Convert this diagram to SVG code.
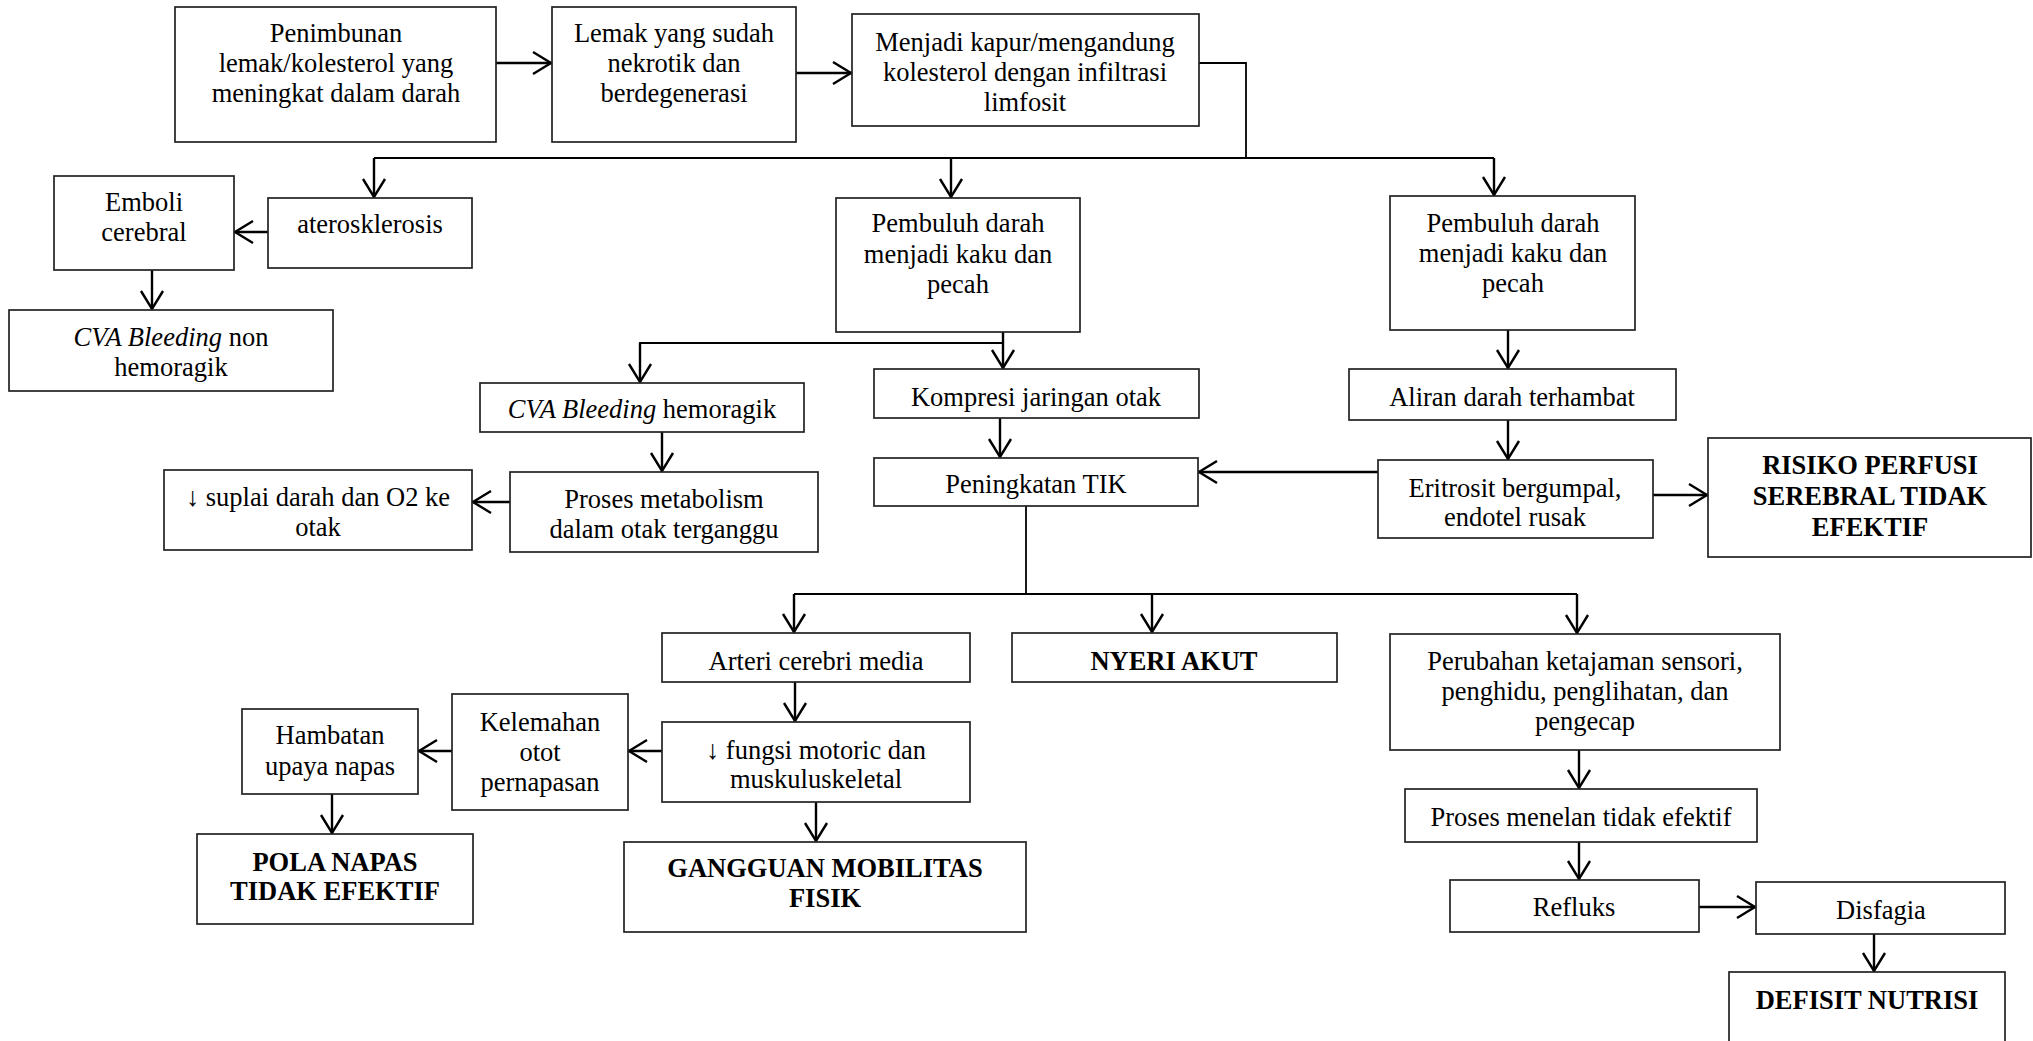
<svg xmlns="http://www.w3.org/2000/svg" width="2033" height="1041" viewBox="0 0 2033 1041">
<defs>
<style>
.box{fill:#fff;stroke:#222;stroke-width:1.7}
.t{font-family:"Liberation Serif","Times New Roman","DejaVu Serif",serif;font-size:26.5px;text-anchor:middle;fill:#000}
.b{font-weight:bold}
.i{font-style:italic}
.ln{stroke:#000;stroke-width:1.8;fill:none}
.ar{stroke:#000;stroke-width:2.4;fill:none;marker-end:url(#ah)}
</style>
<marker id="ah" markerUnits="userSpaceOnUse" markerWidth="26" markerHeight="26" refX="22" refY="12" orient="auto" viewBox="0 0 26 24">
<path d="M3,1 L21,12 L3,23" fill="none" stroke="#000" stroke-width="2.4"/>
</marker>
</defs>
<rect width="2033" height="1041" fill="#fff"/>

<g id="connectors">
<line class="ar" x1="496" y1="63" x2="552" y2="63"/>
<line class="ar" x1="796" y1="73" x2="852" y2="73"/>
<polyline class="ln" points="1199,63 1246,63 1246,158"/>
<line class="ln" x1="374" y1="158" x2="1494" y2="158"/>
<line class="ar" x1="374" y1="158" x2="374" y2="198"/>
<line class="ar" x1="951" y1="158" x2="951" y2="198"/>
<line class="ar" x1="1494" y1="158" x2="1494" y2="196"/>
<line class="ar" x1="268" y1="232" x2="234" y2="232"/>
<line class="ar" x1="152" y1="270" x2="152" y2="310"/>
<line class="ar" x1="1003" y1="332" x2="1003" y2="369"/>
<polyline class="ln" points="1003,343 640,343 640,360"/>
<line class="ar" x1="640" y1="343" x2="640" y2="383"/>
<line class="ar" x1="662" y1="432" x2="662" y2="472"/>
<line class="ar" x1="510" y1="502" x2="472" y2="502"/>
<line class="ar" x1="1000" y1="418" x2="1000" y2="458"/>
<line class="ar" x1="1508" y1="330" x2="1508" y2="369"/>
<line class="ar" x1="1508" y1="420" x2="1508" y2="460"/>
<line class="ar" x1="1378" y1="472" x2="1198" y2="472"/>
<line class="ar" x1="1653" y1="495" x2="1708" y2="495"/>
<line class="ln" x1="1026" y1="506" x2="1026" y2="594"/>
<line class="ln" x1="794" y1="594" x2="1577" y2="594"/>
<line class="ar" x1="794" y1="594" x2="794" y2="633"/>
<line class="ar" x1="1152" y1="594" x2="1152" y2="633"/>
<line class="ar" x1="1577" y1="594" x2="1577" y2="634"/>
<line class="ar" x1="795" y1="682" x2="795" y2="722"/>
<line class="ar" x1="662" y1="751" x2="628" y2="751"/>
<line class="ar" x1="452" y1="751" x2="418" y2="751"/>
<line class="ar" x1="332" y1="794" x2="332" y2="834"/>
<line class="ar" x1="816" y1="802" x2="816" y2="842"/>
<line class="ar" x1="1579" y1="750" x2="1579" y2="789"/>
<line class="ar" x1="1579" y1="842" x2="1579" y2="880"/>
<line class="ar" x1="1699" y1="907" x2="1756" y2="907"/>
<line class="ar" x1="1874" y1="934" x2="1874" y2="972"/>
</g>

<g id="n1"><rect class="box" x="175" y="7" width="321" height="135"/>
<text class="t" x="336" y="42">Penimbunan</text><text class="t" x="336" y="72">lemak/kolesterol yang</text><text class="t" x="336" y="102">meningkat dalam darah</text></g>
<g id="n2"><rect class="box" x="552" y="7" width="244" height="135"/>
<text class="t" x="674" y="42">Lemak yang sudah</text><text class="t" x="674" y="72">nekrotik dan</text><text class="t" x="674" y="102">berdegenerasi</text></g>
<g id="n3"><rect class="box" x="852" y="14" width="347" height="112"/>
<text class="t" x="1025" y="51">Menjadi kapur/mengandung</text><text class="t" x="1025" y="81">kolesterol dengan infiltrasi</text><text class="t" x="1025" y="111">limfosit</text></g>
<g id="n4"><rect class="box" x="54" y="176" width="180" height="94"/>
<text class="t" x="144" y="211">Emboli</text><text class="t" x="144" y="241">cerebral</text></g>
<g id="n5"><rect class="box" x="268" y="198" width="204" height="70"/>
<text class="t" x="370" y="233">aterosklerosis</text></g>
<g id="n6"><rect class="box" x="9" y="310" width="324" height="81"/>
<text class="t" x="171" y="346"><tspan class="i">CVA Bleeding</tspan> non</text><text class="t" x="171" y="376">hemoragik</text></g>
<g id="n7"><rect class="box" x="836" y="198" width="244" height="134"/>
<text class="t" x="958" y="232">Pembuluh darah</text><text class="t" x="958" y="263">menjadi kaku dan</text><text class="t" x="958" y="293">pecah</text></g>
<g id="n8"><rect class="box" x="1390" y="196" width="245" height="134"/>
<text class="t" x="1513" y="232">Pembuluh darah</text><text class="t" x="1513" y="262">menjadi kaku dan</text><text class="t" x="1513" y="292">pecah</text></g>
<g id="n9"><rect class="box" x="480" y="383" width="324" height="49"/>
<text class="t" x="642" y="418"><tspan class="i">CVA Bleeding</tspan> hemoragik</text></g>
<g id="n10"><rect class="box" x="874" y="369" width="325" height="49"/>
<text class="t" x="1036" y="406">Kompresi jaringan otak</text></g>
<g id="n11"><rect class="box" x="1349" y="369" width="327" height="51"/>
<text class="t" x="1512" y="406">Aliran darah terhambat</text></g>
<g id="n12"><rect class="box" x="510" y="472" width="308" height="80"/>
<text class="t" x="664" y="508">Proses metabolism</text><text class="t" x="664" y="538">dalam otak terganggu</text></g>
<g id="n13"><rect class="box" x="164" y="470" width="308" height="80"/>
<text class="t" x="318" y="506">↓ suplai darah dan O2 ke</text><text class="t" x="318" y="536">otak</text></g>
<g id="n14"><rect class="box" x="874" y="458" width="324" height="48"/>
<text class="t" x="1036" y="493">Peningkatan TIK</text></g>
<g id="n15"><rect class="box" x="1378" y="460" width="275" height="78"/>
<text class="t" x="1515" y="497">Eritrosit bergumpal,</text><text class="t" x="1515" y="526">endotel rusak</text></g>
<g id="n16"><rect class="box" x="1708" y="438" width="323" height="119"/>
<text class="t b" x="1870" y="474">RISIKO PERFUSI</text><text class="t b" x="1870" y="505">SEREBRAL TIDAK</text><text class="t b" x="1870" y="536">EFEKTIF</text></g>
<g id="n17"><rect class="box" x="662" y="633" width="308" height="49"/>
<text class="t" x="816" y="670">Arteri cerebri media</text></g>
<g id="n18"><rect class="box" x="1012" y="633" width="325" height="49"/>
<text class="t b" x="1174" y="670">NYERI AKUT</text></g>
<g id="n19"><rect class="box" x="1390" y="634" width="390" height="116"/>
<text class="t" x="1585" y="670">Perubahan ketajaman sensori,</text><text class="t" x="1585" y="700">penghidu, penglihatan, dan</text><text class="t" x="1585" y="730">pengecap</text></g>
<g id="n20"><rect class="box" x="662" y="722" width="308" height="80"/>
<text class="t" x="816" y="759">↓ fungsi motoric dan</text><text class="t" x="816" y="788">muskuluskeletal</text></g>
<g id="n21"><rect class="box" x="452" y="694" width="176" height="116"/>
<text class="t" x="540" y="731">Kelemahan</text><text class="t" x="540" y="761">otot</text><text class="t" x="540" y="791">pernapasan</text></g>
<g id="n22"><rect class="box" x="242" y="709" width="176" height="85"/>
<text class="t" x="330" y="744">Hambatan</text><text class="t" x="330" y="775">upaya napas</text></g>
<g id="n23"><rect class="box" x="197" y="834" width="276" height="90"/>
<text class="t b" x="335" y="871">POLA NAPAS</text><text class="t b" x="335" y="900">TIDAK EFEKTIF</text></g>
<g id="n24"><rect class="box" x="624" y="842" width="402" height="90"/>
<text class="t b" x="825" y="877">GANGGUAN MOBILITAS</text><text class="t b" x="825" y="907">FISIK</text></g>
<g id="n25"><rect class="box" x="1405" y="789" width="352" height="53"/>
<text class="t" x="1581" y="826">Proses menelan tidak efektif</text></g>
<g id="n26"><rect class="box" x="1450" y="880" width="249" height="52"/>
<text class="t" x="1574" y="916">Refluks</text></g>
<g id="n27"><rect class="box" x="1756" y="882" width="249" height="52"/>
<text class="t" x="1881" y="919">Disfagia</text></g>
<g id="n28"><rect class="box" x="1729" y="972" width="276" height="80"/>
<text class="t b" x="1867" y="1009">DEFISIT NUTRISI</text></g>
</svg>
